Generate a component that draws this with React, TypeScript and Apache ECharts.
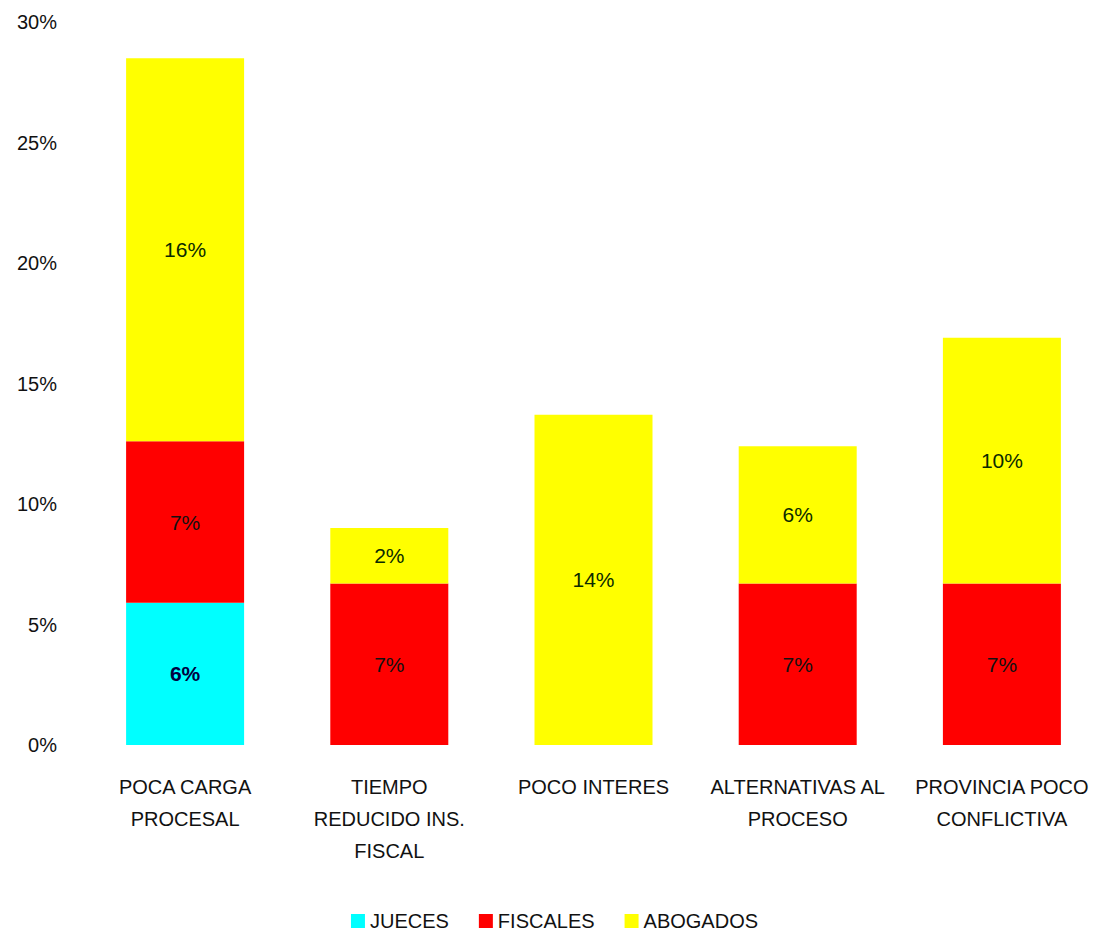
import React, { useEffect, useRef } from "react";
import * as echarts from "echarts";

const categories = [
  "POCA CARGA\nPROCESAL",
  "TIEMPO\nREDUCIDO INS.\nFISCAL",
  "POCO INTERES",
  "ALTERNATIVAS AL\nPROCESO",
  "PROVINCIA POCO\nCONFLICTIVA",
];
const jueces = [5.9, 0, 0, 0, 0];
const fiscales = [6.7, 6.7, 0, 6.7, 6.7];
const abogados = [15.9, 2.3, 13.7, 5.7, 10.2];
const yTicks = [0, 5, 10, 15, 20, 25, 30];

const FONT = "Liberation Sans";

export default function App() {
  const ref = useRef<HTMLDivElement>(null);
  useEffect(() => {
    if (!ref.current) return;
    const chart = echarts.init(ref.current, null, { renderer: "svg" });
    const label = (color: string, weight: string) => ({
      show: true,
      position: "inside",
      color,
      fontWeight: weight,
      fontSize: 21,
      fontFamily: FONT,
      formatter: (p: any) => (p.value > 0 ? Math.round(p.value) + "%" : ""),
    });
    chart.setOption({
      animation: false,
      textStyle: { fontFamily: FONT },
      grid: { left: 83, right: 5, top: 22, bottom: 188 },
      legend: {
        bottom: -3,
        left: "center",
        itemWidth: 14,
        itemHeight: 14,
        itemGap: 30,
        icon: "rect",
        textStyle: { fontSize: 20, color: "#111", fontFamily: FONT },
        data: ["JUECES", "FISCALES", "ABOGADOS"],
      },
      xAxis: {
        type: "category",
        data: categories,
        axisLine: { show: false },
        axisTick: { show: false },
        axisLabel: {
          interval: 0,
          fontSize: 20,
          color: "#111",
          lineHeight: 32,
          margin: 26,
          fontFamily: FONT,
        },
      },
      yAxis: {
        type: "value",
        min: yTicks[0],
        max: yTicks[yTicks.length - 1],
        interval: 5,
        splitLine: { show: false },
        axisLine: { show: false },
        axisTick: { show: false },
        axisLabel: {
          formatter: "{value}%",
          fontSize: 20,
          color: "#111",
          margin: 26,
          fontFamily: FONT,
        },
      },
      series: [
        {
          name: "JUECES",
          type: "bar",
          stack: "a",
          barWidth: 118,
          data: jueces,
          itemStyle: { color: "#00FFFF" },
          label: label("#000040", "bold"),
        },
        {
          name: "FISCALES",
          type: "bar",
          stack: "a",
          data: fiscales,
          itemStyle: { color: "#FF0000" },
          label: label("#111", "normal"),
        },
        {
          name: "ABOGADOS",
          type: "bar",
          stack: "a",
          data: abogados,
          itemStyle: { color: "#FFFF00" },
          label: label("#0a2a00", "normal"),
        },
      ],
    });
    return () => chart.dispose();
  }, []);
  return (
    <div
      ref={ref}
      style={{ position: "absolute", left: 0, top: 0, width: 1109, height: 933 }}
    />
  );
}
